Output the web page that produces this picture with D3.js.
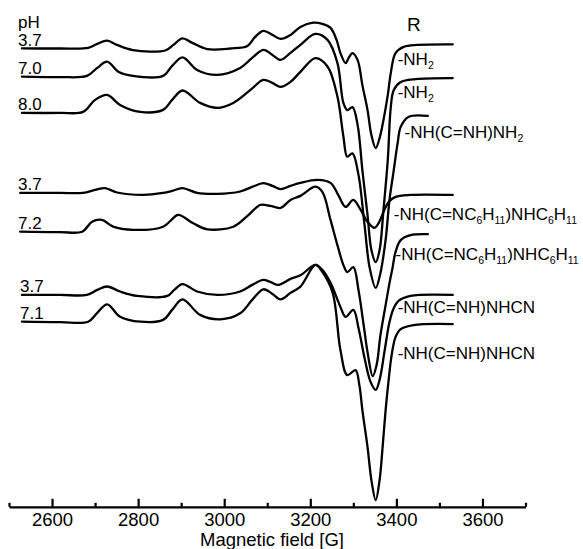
<!DOCTYPE html>
<html>
<head>
<meta charset="utf-8">
<script src="https://cdn.jsdelivr.net/npm/d3@7"></script>
<style>
  body { margin: 0; background: #fff; }
  text { font-family: "Liberation Sans", Arial, sans-serif; fill: #000; }
</style>
</head>
<body>
<div id="epr"></div>
<script>

// field ticks [G]
var majorTicks = [2600, 2800, 3000, 3200, 3400, 3600];
var minorTicks = [2500, 2700, 2900, 3100, 3300, 3500, 3700];

// pH of each sample, top to bottom
var phValues = ["3.7", "7.0", "8.0", "3.7", "7.2", "3.7", "7.1"];

// substituent R, as [text, subscript?] pieces
var substituents = [
  [["-NH", 0], ["2", 1]],
  [["-NH", 0], ["2", 1]],
  [["-NH(C=NH)NH", 0], ["2", 1]],
  [["-NH(C=NC", 0], ["6", 1], ["H", 0], ["11", 1], [")NHC", 0], ["6", 1], ["H", 0], ["11", 1]],
  [["-NH(C=NC", 0], ["6", 1], ["H", 0], ["11", 1], [")NHC", 0], ["6", 1], ["H", 0], ["11", 1]],
  [["-NH(C=NH)NHCN", 0]],
  [["-NH(C=NH)NHCN", 0]]
];

// vertical offset of each trace (a.u.)
var offsets = [229.1, 214.9, 196.8, 156.8, 137.4, 105.8, 92.4];

// spectra: [field G, signal a.u.] relative to the trace offset
var specNH2_37 = [[2530,0],[2619,-0.1],[2684,0.2],[2705,2.2],[2728,3.8],[2751,1.7],[2788,-0.9],[2863,-1.1],[2882,1.7],[2903,5.0],[2926,2.7],[2961,-0.4],[3014,-0.1],[3054,1.2],[3072,5.7],[3091,8.7],[3112,6.7],[3131,4.7],[3154,6.7],[3177,10.7],[3207,12.8],[3228,12.2],[3247,10.2],[3261,4.2],[3270,-2.4],[3282,-7.4],[3289,-4.9],[3298,-2.4],[3310,-5.9],[3321,-18.4],[3333,-30.9],[3342,-43.4],[3352,-49.9],[3361,-44.9],[3370,-35.9],[3380,-23.4],[3387,-12.4],[3398,-2.4],[3417,0.7],[3449,1.7],[3531,2.0]];

var specNH2_70 = [[2530,0],[2619,-0.2],[2681,0.4],[2705,4.4],[2728,7.5],[2754,2.5],[2788,0.4],[2858,0.4],[2879,5.4],[2903,9.7],[2937,3.4],[2984,0.9],[3037,4.4],[3065,9.4],[3091,13.4],[3112,10.9],[3131,8.4],[3154,11.9],[3177,15.9],[3212,21.4],[3240,18.4],[3263,6.9],[3277,-13.2],[3286,-16.7],[3298,-15.2],[3310,-24.2],[3321,-46.7],[3333,-69.2],[3342,-86.7],[3352,-92.7],[3361,-86.7],[3370,-66.7],[3380,-41.7],[3387,-15.2],[3394,-6.7],[3410,-2.7],[3445,-1.2],[3531,-0.7]];

var specGua_80 = [[2530,0],[2619,0],[2672,0.5],[2700,6.5],[2728,9],[2758,4],[2805,0.5],[2858,1.5],[2879,6.5],[2903,11.2],[2944,5],[2984,2.5],[3021,5],[3061,11.5],[3091,16.5],[3112,15],[3131,13],[3154,15.5],[3177,20.5],[3212,27.4],[3240,23.2],[3263,8.2],[3277,-11.9],[3286,-21.9],[3298,-20.2],[3312,-31],[3326,-56],[3338,-77.5],[3352,-87.5],[3363,-80],[3375,-63.5],[3384,-43.5],[3394,-28.5],[3403,-15],[3410,-7],[3428,-2],[3473,-1.5]];

var specDcc_37 = [[2526,0],[2619,0],[2672,0],[2700,1.5],[2723,2.4],[2751,0.2],[2812,-1],[2858,0],[2879,1],[2903,2.4],[2937,0],[2984,-0.5],[3037,0.7],[3065,3],[3091,4.9],[3112,3.5],[3131,1.9],[3154,3.5],[3177,5],[3217,6.5],[3247,5],[3266,-1.5],[3282,-7],[3300,-3.5],[3317,-8.5],[3333,-14.5],[3349,-17.5],[3359,-15],[3370,-9.5],[3382,-4.5],[3398,-2],[3433,-1],[3531,-1]];

var specDcc_72 = [[2526,0],[2619,-0.2],[2670,0],[2693,5],[2716,5.9],[2742,2.5],[2788,0.9],[2858,2.5],[2875,5.4],[2893,8.4],[2928,4.2],[2961,1.2],[3021,2.5],[3054,7.9],[3084,13.4],[3107,12.9],[3131,11.9],[3154,15.9],[3177,17.9],[3212,22.5],[3228,19.9],[3247,5.9],[3263,-6.7],[3277,-16.7],[3286,-20.2],[3300,-17.7],[3312,-29.2],[3324,-46.7],[3333,-60.2],[3345,-72.2],[3354,-66.7],[3363,-51.7],[3375,-36.7],[3384,-25.7],[3391,-18.2],[3398,-10.2],[3410,-4.2],[3433,-1.7],[3473,-1.2]];

var specCya_37 = [[2530,0],[2619,0],[2681,0],[2705,2.5],[2728,4.2],[2758,1.7],[2798,-0.5],[2868,-0.5],[2884,2.5],[2903,5.4],[2937,1.7],[2984,0],[3037,1.7],[3065,5],[3091,7.5],[3107,6.5],[3126,5],[3154,8],[3177,9.8],[3212,15],[3228,12.5],[3247,6],[3270,-6],[3282,-11],[3300,-7.5],[3312,-16.5],[3326,-31.5],[3340,-43.5],[3352,-47.5],[3361,-42.5],[3373,-27.5],[3384,-13.5],[3394,-6.5],[3405,-3],[3433,-0.5],[3531,0]];

var specCya_71 = [[2530,0],[2619,-0.2],[2684,0],[2705,4.4],[2728,8.7],[2758,2.5],[2805,0],[2858,0.9],[2879,5.9],[2903,11.2],[2944,3.4],[2991,1.2],[3037,4.2],[3065,10.9],[3091,16.2],[3112,13.9],[3131,11.2],[3154,14.4],[3177,17.5],[3212,28.4],[3228,24.9],[3252,14.4],[3270,-14.2],[3286,-26.7],[3305,-24.2],[3314,-31.7],[3321,-44.2],[3333,-62.7],[3342,-79.2],[3352,-89.2],[3361,-79.2],[3368,-62.7],[3375,-44.2],[3382,-29.2],[3389,-16.7],[3398,-7.7],[3410,-3.7],[3440,-1.7],[3531,-1.2]];

var spectra = [specNH2_37, specNH2_70, specGua_80, specDcc_37, specDcc_72, specCya_37, specCya_71];

// label placement (layout only)
var labelField = [3403, 3403, 3419, 3394, 3398, 3403, 3403];
var labelDrop = [21, 20, 22, 25, 26, 18, 35];

var W = 583, H = 549;

var svg = d3.select("#epr").append("svg")
  .attr("width", W).attr("height", H);

svg.append("rect").attr("width", W).attr("height", H).attr("fill", "#fff");

var x = d3.scaleLinear().domain([2500, 3700]).range([9, 525.5]);
var y = d3.scaleLinear().domain([0, 250]).range([506.5, 6.5]);

var axisY = 506.8;

var line = d3.line()
  .x(d => x(d[0]))
  .y(d => y(d[1]))
  .curve(d3.curveCatmullRom.alpha(0.5));

spectra.forEach(function(s, i) {
  svg.append("path")
    .datum(s.map(p => [p[0], p[1] + offsets[i]]))
    .attr("fill", "none")
    .attr("stroke", "#000")
    .attr("stroke-width", 2.3)
    .attr("stroke-linejoin", "round")
    .attr("stroke-linecap", "round")
    .attr("d", line);
});

// pH labels
svg.append("text")
  .attr("x", 18).attr("y", 27.5)
  .attr("font-size", 17)
  .text("pH");

phValues.forEach(function(p, i) {
  svg.append("text")
    .attr("x", i >= 5 ? 20 : 18)
    .attr("y", y(offsets[i]) - 2.5)
    .attr("font-size", 17)
    .text(p);
});

// R labels
svg.append("text")
  .attr("x", 407).attr("y", 31)
  .attr("font-size", 19)
  .text("R");

substituents.forEach(function(parts, i) {
  var end = spectra[i][spectra[i].length - 1];
  var t = svg.append("text")
    .attr("x", x(labelField[i]))
    .attr("y", y(end[1] + offsets[i]) + labelDrop[i])
    .attr("font-size", 17);
  var shifted = false;
  parts.forEach(function(p) {
    var ts = t.append("tspan").text(p[0]);
    if (p[1]) {
      ts.attr("font-size", 10.5).attr("dy", shifted ? 0 : 4);
      shifted = true;
    } else {
      if (shifted) ts.attr("dy", -4);
      shifted = false;
    }
  });
  // keep the long formulas inside the frame
  var w = t.node().getComputedTextLength();
  var x0 = +t.attr("x");
  if (x0 + w > W - 1) t.attr("textLength", W - 1 - x0).attr("lengthAdjust", "spacingAndGlyphs");
});

// field axis
var gx = svg.append("g")
  .attr("transform", `translate(0,${axisY})`)
  .call(d3.axisBottom(x)
    .tickValues(majorTicks)
    .tickSizeInner(-8)
    .tickSizeOuter(0)
    .tickPadding(6)
    .tickFormat(d3.format("d")));

gx.select(".domain").attr("stroke-width", 2.2);
gx.selectAll(".tick line").attr("stroke-width", 2.2);
gx.selectAll(".tick text")
  .attr("font-family", "Liberation Sans, Arial, sans-serif")
  .attr("font-size", 18.5);

var gm = svg.append("g")
  .attr("transform", `translate(0,${axisY})`)
  .call(d3.axisBottom(x)
    .tickValues(minorTicks)
    .tickSize(-4)
    .tickFormat(""));
gm.select(".domain").remove();
gm.selectAll(".tick line").attr("stroke-width", 2.2);

svg.append("text")
  .attr("x", 272).attr("y", 545.8)
  .attr("text-anchor", "middle")
  .attr("font-size", 18.5)
  .text("Magnetic field [G]");

</script>
</body>
</html>
